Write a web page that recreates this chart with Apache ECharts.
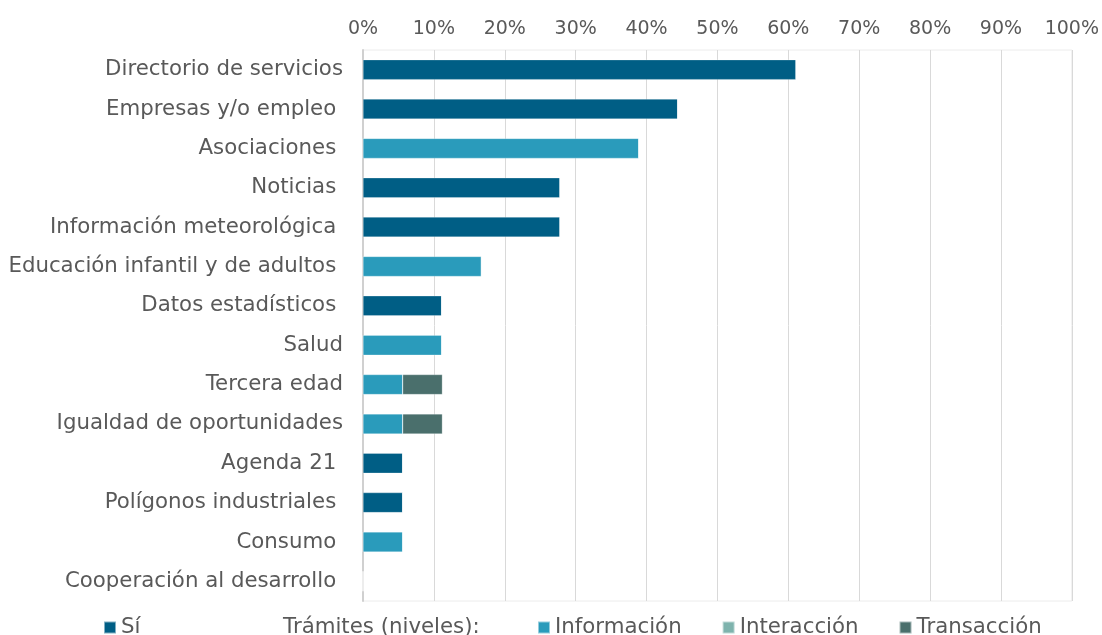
<!DOCTYPE html>
<html>
<head>
<meta charset="utf-8">
<script src="https://cdn.jsdelivr.net/npm/echarts@6/dist/echarts.min.js"></script>
<style>
  html, body { margin: 0; padding: 0; background: #ffffff; }
  #chart { width: 1102px; height: 635px; }
</style>
</head>
<body>
<div id="chart"></div>
<script>
// Service categories, top to bottom (some labels carry a trailing space)
const categories = [
  'Directorio de servicios',
  'Empresas y/o empleo ',
  'Asociaciones ',
  'Noticias ',
  'Información meteorológica ',
  'Educación infantil y de adultos ',
  'Datos estadísticos ',
  'Salud',
  'Tercera edad',
  'Igualdad de oportunidades',
  'Agenda 21 ',
  'Polígonos industriales ',
  'Consumo ',
  'Cooperación al desarrollo '
];

// Share of sites (%) per level
const siValues          = [61.1, 44.4, 0, 27.8, 27.8, 0, 11.1, 0, 0, 0, 5.6, 5.6, 0, 0];
const informacionValues = [0, 0, 38.9, 0, 0, 16.7, 0, 11.1, 5.6, 5.6, 0, 0, 5.6, 0];
const interaccionValues = [0, 0, 0, 0, 0, 0, 0, 0, 0, 0, 0, 0, 0, 0];
const transaccionValues = [0, 0, 0, 0, 0, 0, 0, 0, 5.6, 5.6, 0, 0, 0, 0];

const tickValues = [0, 10, 20, 30, 40, 50, 60, 70, 80, 90, 100];

const FONT = '"DejaVu Sans", Verdana, sans-serif';
const TEXT = '#595959';
const FS_TICK = 19;
const FS = 21.3;

const colors = {
  si: '#005e85',
  informacion: '#2a9bbb',
  interaccion: '#7eb3ad',
  transaccion: '#4a6f6c'
};

function barSeries(name, data, color) {
  return {
    name: name,
    type: 'bar',
    stack: 'total',
    barWidth: 20,
    data: data,
    itemStyle: { color: color, borderColor: 'rgba(255,255,255,0.5)', borderWidth: 0.5 },
    emphasis: { disabled: true }
  };
}

const legendCommon = {
  top: 617,
  padding: 0,
  itemWidth: 12,
  itemHeight: 12,
  icon: 'rect',
  textStyle: { fontSize: FS, color: TEXT, fontFamily: FONT },
  selectedMode: false
};

const chart = echarts.init(document.getElementById('chart'));
chart.setOption({
  animation: false,
  textStyle: { fontFamily: FONT, color: TEXT },
  grid: {
    left: 363, right: 30, top: 50, bottom: 34,
    show: true, borderColor: '#ececec', borderWidth: 1,
    containLabel: false
  },
  xAxis: {
    type: 'value',
    position: 'top',
    min: tickValues[0],
    max: tickValues[tickValues.length - 1],
    interval: 10,
    axisLine: { show: false },
    axisTick: { show: false },
    axisLabel: {
      margin: 11,
      fontSize: FS_TICK,
      color: TEXT,
      fontFamily: FONT,
      formatter: v => v + '%'
    },
    splitLine: { show: true, lineStyle: { color: '#d9d9d9', width: 1 } }
  },
  yAxis: {
    type: 'category',
    inverse: true,
    data: categories,
    axisLine: { show: true, lineStyle: { color: '#d0d0d0', width: 2 } },
    axisTick: { show: false },
    axisLabel: {
      margin: 20,
      fontSize: FS,
      color: TEXT,
      fontFamily: FONT,
      padding: [3, 0, 0, 0]
    },
    splitLine: { show: false }
  },
  legend: [
    Object.assign({ data: ['Sí'], left: 103 }, legendCommon),
    Object.assign({ data: ['Información', 'Interacción', 'Transacción'], left: 537, itemGap: 40 }, legendCommon)
  ],
  graphic: [
    {
      type: 'text',
      x: 283,
      y: 627,
      style: {
        text: 'Trámites (niveles):',
        fontSize: FS,
        fill: TEXT,
        fontFamily: FONT,
        verticalAlign: 'middle'
      }
    }
  ],
  series: [
    barSeries('Sí', siValues, colors.si),
    barSeries('Información', informacionValues, colors.informacion),
    barSeries('Interacción', interaccionValues, colors.interaccion),
    barSeries('Transacción', transaccionValues, colors.transaccion)
  ]
});
</script>
</body>
</html>
